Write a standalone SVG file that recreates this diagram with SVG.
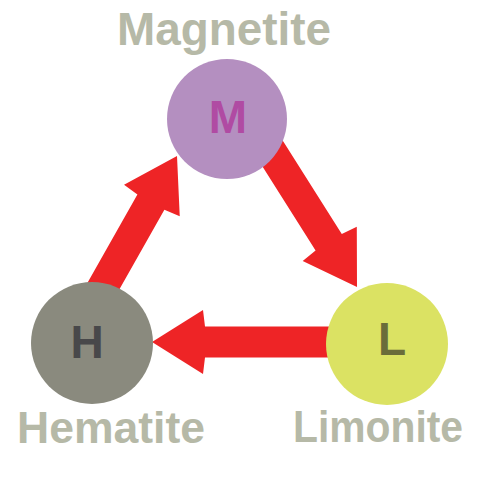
<svg xmlns="http://www.w3.org/2000/svg" xmlns:xlink="http://www.w3.org/1999/xlink" width="480" height="480" viewBox="0 0 480 480">
<style>
.label{font-family:"Liberation Sans",Arial,sans-serif;font-weight:bold;fill:#b6b9a7;}
.init{font-family:"Liberation Sans",Arial,sans-serif;font-weight:bold;font-size:46px;text-anchor:middle;}
.arrow{fill:#ee2426;}
</style>
<defs>
<path id="arrowShape" d="M0 0 L-51 -32 L-53 -15.5 L-200 -15.5 L-200 15.5 L-53 15.5 L-51 32 Z"/>
</defs>
<rect width="480" height="480" fill="#ffffff"/>
<g id="connectors" class="arrow">
<use xlink:href="#arrowShape" transform="translate(177,156) rotate(-60.5) scale(1,1)"/>
<use xlink:href="#arrowShape" transform="translate(357,287) rotate(57.7)"/>
<use xlink:href="#arrowShape" transform="translate(152,342) rotate(180)"/>
</g>
<g id="magnetite">
<circle cx="227" cy="119" r="60" fill="#b48fc0"/>
<text class="init" x="228" y="133" fill="#b04ba3">M</text>
<text class="label" x="224" y="45" font-size="47" text-anchor="middle" textLength="214" lengthAdjust="spacingAndGlyphs">Magnetite</text>
</g>
<g id="hematite">
<circle cx="92" cy="343" r="61" fill="#8a8a7e"/>
<text class="init" x="87" y="358" fill="#48484a">H</text>
<text class="label" x="17" y="443" font-size="44" textLength="188" lengthAdjust="spacingAndGlyphs">Hematite</text>
</g>
<g id="limonite">
<circle cx="387" cy="344" r="61" fill="#dbe263"/>
<text class="init" x="392" y="355" fill="#6a6c3a">L</text>
<text class="label" x="293" y="442" font-size="44" textLength="170" lengthAdjust="spacingAndGlyphs">Limonite</text>
</g>
</svg>
